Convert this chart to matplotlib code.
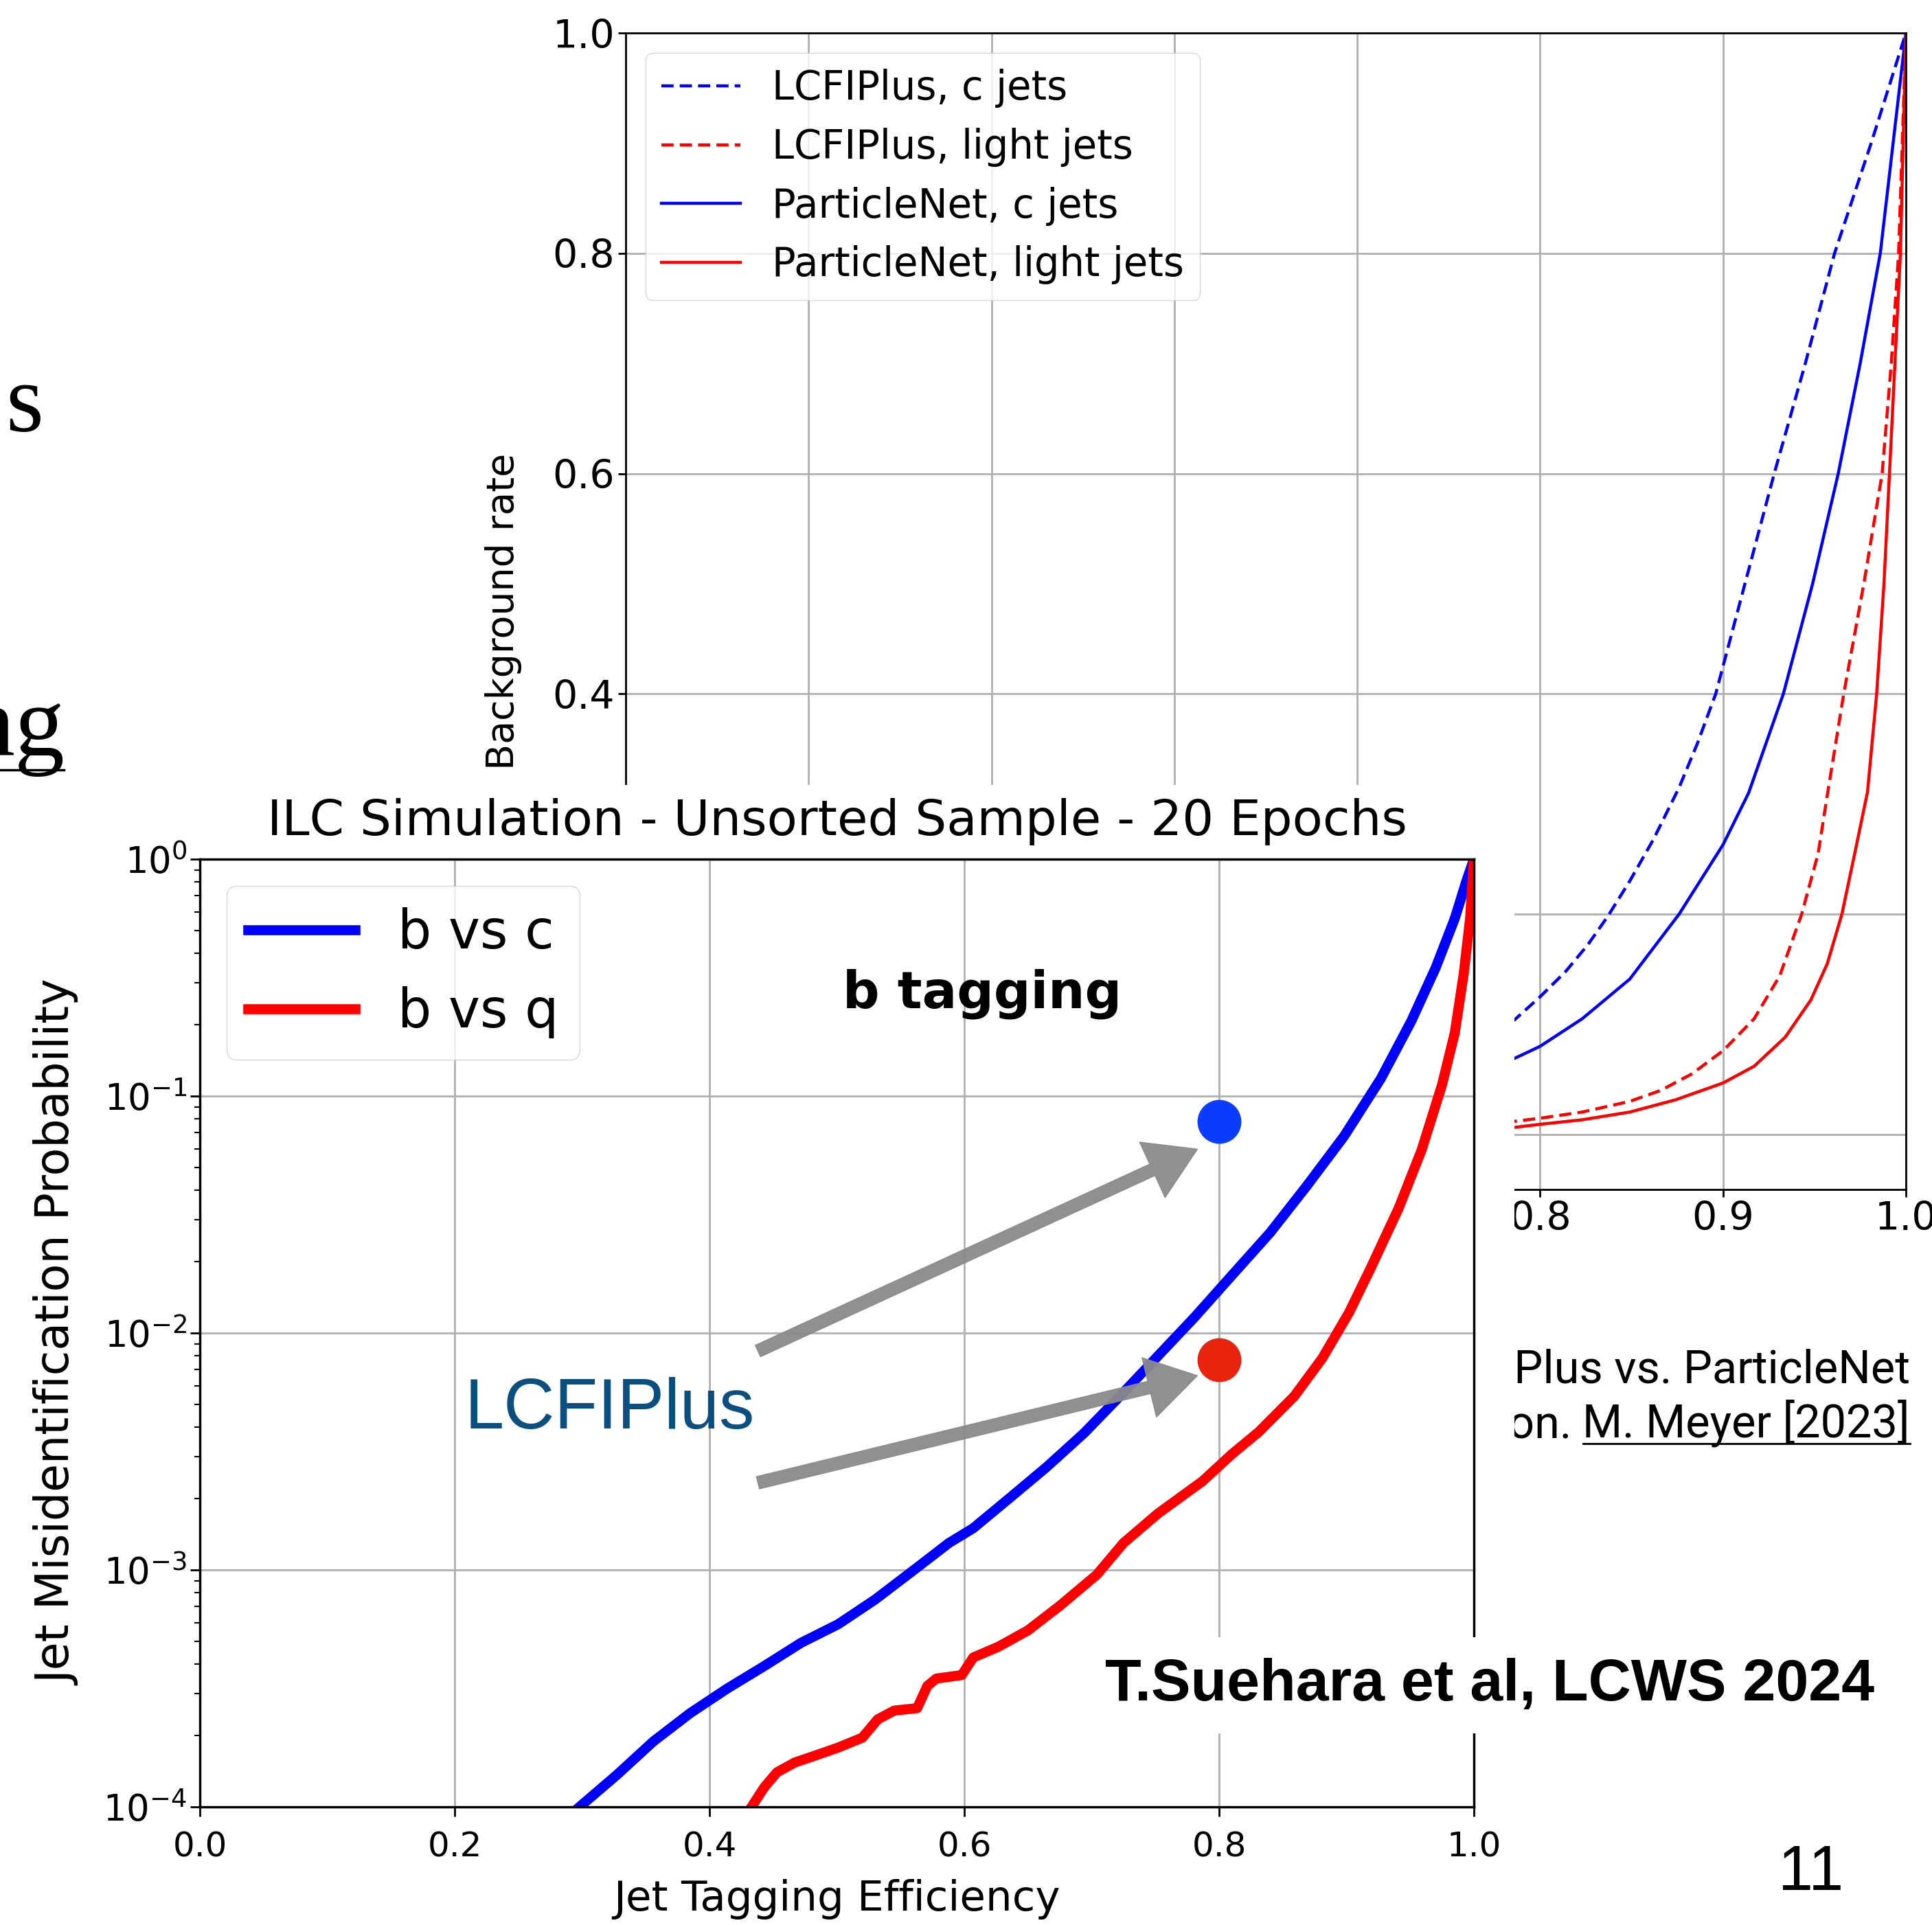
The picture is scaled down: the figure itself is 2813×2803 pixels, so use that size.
import numpy as np
import matplotlib.pyplot as plt
from matplotlib.patches import Rectangle
from matplotlib.lines import Line2D

# output size in pixels (dpi 100)
W, H = 2813, 2803

# ---- background chart: LCFIPlus vs ParticleNet, background rate vs efficiency
lcfi_c_eff = [0.30, 0.40, 0.50, 0.60, 0.70, 0.75, 0.786, 0.80, 0.814, 0.826, 0.837, 0.849, 0.862, 0.876, 0.886,
              0.896, 0.912, 0.928, 0.945, 0.961, 0.981, 1.0]
lcfi_c_bkg = [0.004, 0.008, 0.015, 0.028, 0.055, 0.078, 0.104, 0.125, 0.148, 0.172, 0.198, 0.230, 0.268, 0.315, 0.355,
              0.400, 0.500, 0.600, 0.700, 0.800, 0.900, 1.0]
lcfi_l_eff = [0.30, 0.50, 0.70, 0.786, 0.80, 0.823, 0.849, 0.866, 0.883, 0.900, 0.917, 0.931, 0.943, 0.952, 0.957,
              0.966, 0.977, 0.987, 0.992, 0.996, 1.0]
lcfi_l_bkg = [0.003, 0.005, 0.008, 0.0119, 0.0147, 0.0203, 0.030, 0.040, 0.055, 0.076, 0.105, 0.144, 0.200, 0.255, 0.308,
              0.400, 0.500, 0.600, 0.700, 0.800, 1.0]
pn_c_eff = [0.30, 0.40, 0.50, 0.60, 0.70, 0.75, 0.786, 0.80, 0.823, 0.849, 0.876, 0.900, 0.914, 0.933, 0.949,
            0.963, 0.975, 0.986, 1.0]
pn_c_bkg = [0.003, 0.006, 0.011, 0.020, 0.036, 0.050, 0.069, 0.080, 0.105, 0.141, 0.200, 0.263, 0.310, 0.400, 0.500,
            0.600, 0.700, 0.800, 1.0]
pn_l_eff = [0.30, 0.50, 0.70, 0.786, 0.80, 0.823, 0.849, 0.874, 0.900, 0.917, 0.934, 0.948, 0.957, 0.965, 0.972,
            0.979, 0.984, 0.988, 0.991, 0.994, 0.997, 1.0]
pn_l_bkg = [0.002, 0.0035, 0.005, 0.0064, 0.0092, 0.0133, 0.0203, 0.0314, 0.0467, 0.0619, 0.0883, 0.122, 0.155, 0.200,
            0.255, 0.311, 0.400, 0.500, 0.600, 0.700, 0.800, 1.0]
bg_xticks = [0.3, 0.4, 0.5, 0.6, 0.7, 0.8, 0.9, 1.0]
bg_yticks = [0.0, 0.2, 0.4, 0.6, 0.8, 1.0]

# ---- foreground chart: b tagging ROC (log scale)
bvc_eff = [0.298, 0.327, 0.356, 0.385, 0.414, 0.443, 0.472, 0.501, 0.530, 0.559, 0.588, 0.607, 0.636, 0.665,
           0.694, 0.723, 0.752, 0.781, 0.810, 0.840, 0.869, 0.898, 0.927, 0.951, 0.970, 0.985, 0.994, 1.0]
bvc_mis = [1.0e-4, 1.36e-4, 1.89e-4, 2.49e-4, 3.16e-4, 3.93e-4, 4.93e-4, 5.9e-4, 7.5e-4, 9.86e-4, 1.30e-3,
           1.5e-3, 2.02e-3, 2.73e-3, 3.78e-3, 5.47e-3, 8.0e-3, 0.0117, 0.0175, 0.0265, 0.0419, 0.0676,
           0.1186, 0.208, 0.348, 0.562, 0.805, 1.0]
bvq_eff = [0.433, 0.443, 0.453, 0.467, 0.482, 0.501, 0.520, 0.532, 0.545, 0.563, 0.571, 0.578, 0.598, 0.607,
           0.627, 0.650, 0.675, 0.704, 0.725, 0.752, 0.787, 0.810, 0.831, 0.859, 0.881, 0.902, 0.919, 0.941,
           0.959, 0.975, 0.985, 0.992, 0.997, 1.0]
bvq_mis = [1.0e-4, 1.21e-4, 1.40e-4, 1.54e-4, 1.64e-4, 1.78e-4, 1.96e-4, 2.34e-4, 2.55e-4, 2.61e-4, 3.24e-4,
           3.48e-4, 3.6e-4, 4.27e-4, 4.75e-4, 5.56e-4, 7.06e-4, 9.55e-4, 1.3e-3, 1.73e-3, 2.37e-3, 3.08e-3,
           3.82e-3, 5.41e-3, 7.83e-3, 0.0122, 0.0188, 0.0337, 0.0593, 0.1117, 0.185, 0.328, 0.562, 1.0]
# LCFIPlus working points at 80% efficiency
lcfi_eff = [0.8, 0.8]
lcfi_mis = [0.078, 0.0077]
lcfi_cols = ['#0A3CFF', '#E8240F']

fig = plt.figure(figsize=(W / 100, H / 100), dpi=100)

# background chart
ax_bg = fig.add_axes([911 / W, 1 - 1732 / H, (2775 - 911) / W, (1732 - 48) / H], zorder=0)
ax_bg.plot(lcfi_c_eff, lcfi_c_bkg, color='blue', lw=3.2, dashes=(4, 2), label='LCFIPlus, c jets')
ax_bg.plot(lcfi_l_eff, lcfi_l_bkg, color='red', lw=3.2, dashes=(4, 2), label='LCFIPlus, light jets')
ax_bg.plot(pn_c_eff, pn_c_bkg, '-', color='blue', lw=3.2, label='ParticleNet, c jets')
ax_bg.plot(pn_l_eff, pn_l_bkg, '-', color='red', lw=3.2, label='ParticleNet, light jets')
ax_bg.set_xlim(0.3, 1.0)
ax_bg.set_ylim(-0.05, 1.0)
ax_bg.set_xticks(bg_xticks)
ax_bg.set_yticks(bg_yticks)
ax_bg.grid(True, color='#b0b0b0', lw=2)
ax_bg.tick_params(labelsize=41, length=8, width=2)
for sp in ax_bg.spines.values():
    sp.set_linewidth(2)
ax_bg.set_ylabel('Background rate', fontsize=40, labelpad=32)
ax_bg.legend(loc='upper left', fontsize=41.5, labelspacing=0.5, handlelength=2.0)

# caption under the background chart (partly hidden by the foreground panel)
cx = 2781 / W
fig.text(cx, 1 - 2013 / H, 'LCFIPlus vs. ParticleNet', ha='right', va='baseline',
         fontsize=48, family='Roboto', zorder=0.5)
t_ref = fig.text(cx, 1 - 2094 / H, 'M. Meyer [2023]', ha='right', va='baseline',
                 fontsize=48, family='Roboto', zorder=0.5)
fig.canvas.draw()
bb = t_ref.get_window_extent().transformed(fig.transFigure.inverted())
fig.text(bb.x0, 1 - 2094 / H, 'simulation. ', ha='right', va='baseline',
         fontsize=48, family='Roboto', zorder=0.5)
fig.add_artist(Line2D([bb.x0, bb.x1], [1 - 2102 / H] * 2, color='black', lw=2, zorder=0.5))

# white panel of the foreground chart
fig.add_artist(Rectangle((0, 0), 2205 / W, 1 - 1143 / H, transform=fig.transFigure,
                         facecolor='white', edgecolor='none', zorder=1))

# foreground chart
ax = fig.add_axes([291 / W, 1 - 2631 / H, (2146 - 291) / W, (2631 - 1251) / H], zorder=2)
ax.plot(bvc_eff, bvc_mis, color='blue', lw=10.5, label='b vs c')
ax.plot(bvq_eff, bvq_mis, color='red', lw=10.5, label='b vs q')
ax.set_yscale('log')
ax.set_xlim(0, 1)
ax.set_ylim(1e-4, 1)
ax.grid(True, which='major', color='#b0b0b0', lw=2)
ax.tick_params(axis='x', which='major', labelsize=36, length=10, width=2, pad=15)
ax.tick_params(axis='y', which='major', labelsize=38, length=10, width=2)
ax.tick_params(which='minor', length=6, width=1.5)
for sp in ax.spines.values():
    sp.set_linewidth(2.5)
ax.set_title('ILC Simulation - Unsorted Sample - 20 Epochs', fontsize=52, pad=25)
ax.set_xlabel('Jet Tagging Efficiency', fontsize=44, labelpad=16)
ax.set_ylabel('Jet Misidentification Probability', fontsize=48, labelpad=24)
ax.legend(loc='upper left', fontsize=56)
ax.text(0.614, 0.843, 'b tagging', transform=ax.transAxes, ha='center', va='baseline',
        fontsize=54, fontweight='bold')

# LCFIPlus points and arrows
for e, m, c in zip(lcfi_eff, lcfi_mis, lcfi_cols):
    ax.plot([e], [m], 'o', ms=45, color=c, clip_on=False, zorder=9)
arrow_kw = dict(arrowstyle='simple,head_width=1.6,head_length=1.3,tail_width=0.33',
                color='#8a8a8a', alpha=0.95, shrinkA=0, shrinkB=0, mutation_scale=40)
ax.annotate('', xy=(0.783, 0.694), xytext=(0.438, 0.481), xycoords='axes fraction',
            textcoords='axes fraction', arrowprops=arrow_kw, zorder=8)
ax.annotate('', xy=(0.783, 0.455), xytext=(0.438, 0.342), xycoords='axes fraction',
            textcoords='axes fraction', arrowprops=arrow_kw, zorder=8)
ax.text(0.208, 0.399, 'LCFIPlus', transform=ax.transAxes, ha='left', va='baseline',
        fontsize=74, family='Liberation Sans', color='#0A4F80', zorder=10)

# slide texts
fig.text(63 / W, 1 - 628 / H, 's', ha='right', va='baseline', fontsize=102,
         family='Liberation Serif', zorder=5)
fig.text(95 / W, 1 - 1100 / H, 'ng', ha='right', va='baseline', fontsize=105,
         family='Liberation Serif', zorder=5)
fig.add_artist(Line2D([0, 93 / W], [1 - 1121 / H] * 2, color='black', lw=2.5, zorder=5))
fig.text(1609 / W, 1 - 2476 / H, 'T.Suehara et al, LCWS 2024', ha='left', va='baseline',
         fontsize=62, fontweight='bold', family='Liberation Sans', zorder=5,
         bbox=dict(facecolor='white', edgecolor='none', pad=22))
fig.text(2637 / W, 1 - 2752 / H, '11', ha='center', va='baseline', fontsize=66,
         family='Liberation Sans', zorder=5)

fig.savefig('out.png', dpi=100)
